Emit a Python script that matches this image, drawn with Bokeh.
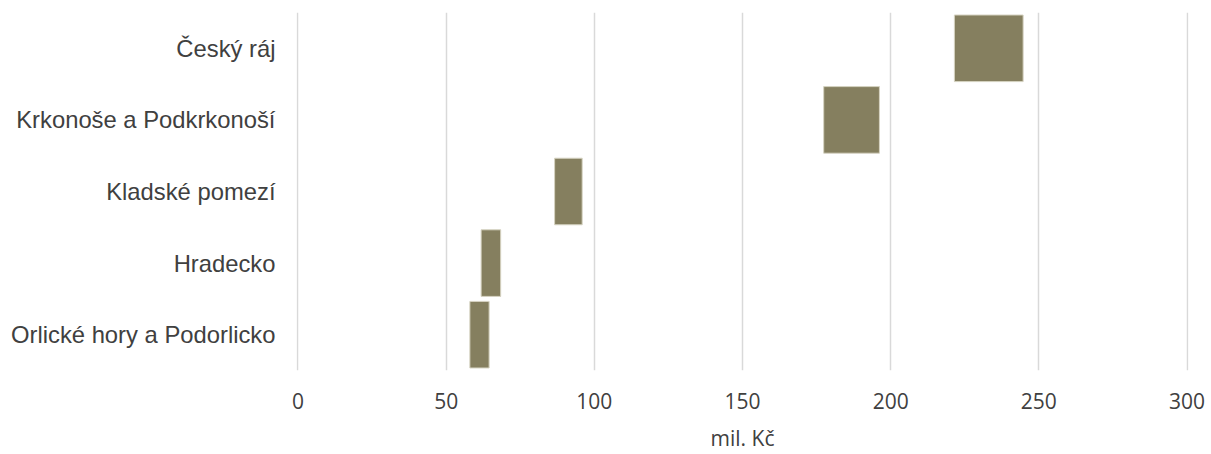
from bokeh.plotting import figure
from bokeh.models import FixedTicker, Range1d
from bokeh.embed import file_html
from bokeh.resources import INLINE

regions = ["Český ráj", "Krkonoše a Podkrkonoší", "Kladské pomezí", "Hradecko", "Orlické hory a Podorlicko"]
low = [221.5, 177.4, 86.6, 61.8, 58.0]
high = [244.7, 196.2, 95.9, 68.4, 64.5]
x_ticks = [0, 50, 100, 150, 200, 250, 300]
x_label = "mil. Kč"

p = figure(width=1211, height=454, y_range=list(reversed(regions)),
           x_range=Range1d(-0.5, 300.5), output_backend="svg", toolbar_location=None,
           min_border_left=296, min_border_right=23, min_border_top=12, min_border_bottom=82)

p.hbar(y=regions, left=low, right=high, height=0.93,
       fill_color="#857f5f", line_color="#d6d3c2", line_width=1)

p.outline_line_color = None
p.ygrid.grid_line_color = None
p.xgrid.grid_line_color = "#d9d9d9"
p.xgrid.grid_line_width = 1.5
p.xaxis.ticker = FixedTicker(ticks=x_ticks)
p.xaxis.axis_line_color = None
p.xaxis.major_tick_line_color = None
p.xaxis.minor_tick_line_color = None
p.xaxis.major_label_text_font = "Open Sans"
p.xaxis.major_label_text_font_size = "21px"
p.xaxis.major_label_text_color = "#404040"
p.xaxis.major_label_standoff = 16
p.xaxis.axis_label = x_label
p.xaxis.axis_label_text_font = "Open Sans"
p.xaxis.axis_label_text_font_size = "21px"
p.xaxis.axis_label_text_font_style = "normal"
p.xaxis.axis_label_text_color = "#404040"
p.xaxis.axis_label_standoff = 12

p.yaxis.axis_line_color = None
p.yaxis.major_tick_line_color = None
p.yaxis.minor_tick_line_color = None
p.yaxis.major_label_text_font = "Liberation Sans"
p.yaxis.major_label_text_font_size = "23.8px"
p.yaxis.major_label_text_color = "#404040"
p.yaxis.major_label_standoff = 15

open("out.html", "w").write(file_html(p, INLINE))
